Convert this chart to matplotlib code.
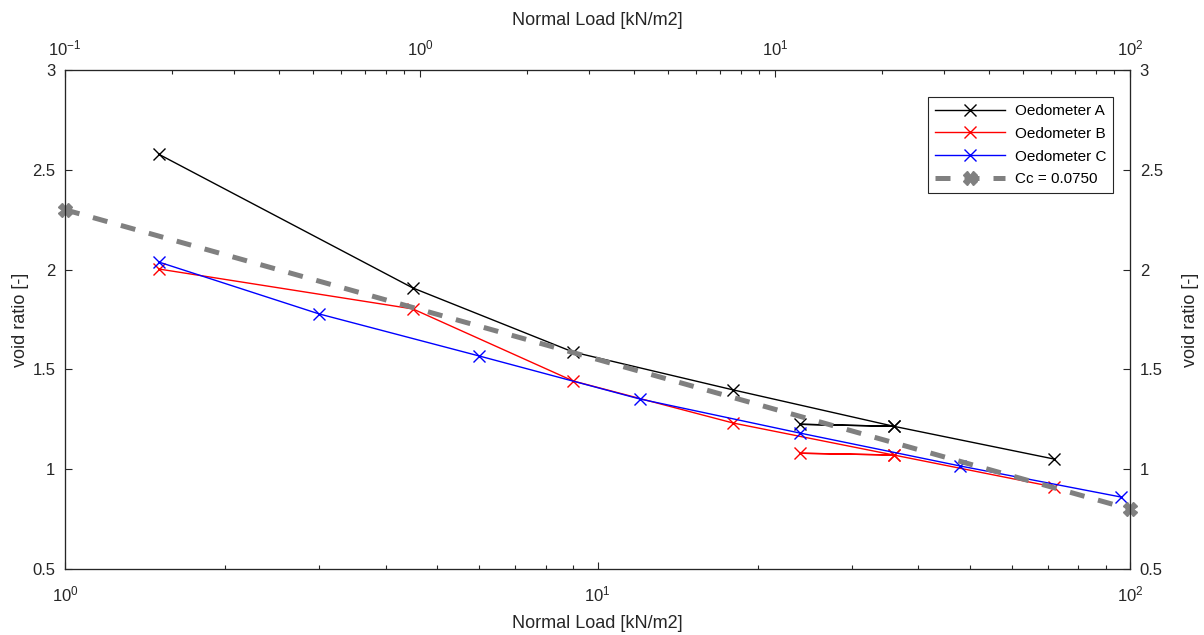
import numpy as np
import matplotlib
matplotlib.use('Agg')
import matplotlib.pyplot as plt

plt.rcParams['font.family'] = ['Liberation Sans', 'DejaVu Sans']
plt.rcParams['mathtext.fontset'] = 'custom'
plt.rcParams['mathtext.rm'] = 'Liberation Sans'
plt.rcParams['mathtext.it'] = 'Liberation Sans'
plt.rcParams['mathtext.default'] = 'regular'

# Oedometer data (load kN/m2, void ratio)
load_a = [1.5, 4.5, 9, 18, 36, 24, 36, 72]
void_a = [2.578, 1.908, 1.587, 1.397, 1.215, 1.225, 1.215, 1.051]
load_b = [1.5, 4.5, 9, 18, 36, 24, 36, 72]
void_b = [2.003, 1.803, 1.442, 1.231, 1.071, 1.080, 1.071, 0.911]
load_c = [1.5, 3, 6, 12, 24, 48, 96]
void_c = [2.038, 1.778, 1.567, 1.352, 1.181, 1.016, 0.861]
# compression index line
cc_load = [1, 100]
cc_void = [2.3, 0.8]
yticks = [0.5, 1, 1.5, 2, 2.5, 3]
ytick_labels = ['0.5', '1', '1.5', '2', '2.5', '3']

axcol = '#262626'

fig = plt.figure(figsize=(12.04, 6.35), dpi=100)
ax = fig.add_axes([65/1204, 1-569/635, (1130-65)/1204, (569-70)/635])

ax.plot(load_a, void_a, color='black', marker='x', markersize=9, lw=1.0, label='Oedometer A')
ax.plot(load_b, void_b, color='red', marker='x', markersize=9, lw=1.0, label='Oedometer B')
ax.plot(load_c, void_c, color='blue', marker='x', markersize=9, lw=1.0, label='Oedometer C')
ax.plot(cc_load, cc_void, color='#808080', marker='X', markersize=10, lw=3.6,
        linestyle=(0, (3, 2.8)), label='Cc = 0.0750', clip_on=False, zorder=5)

ax.set_xscale('log')
ax.set_xlim(1, 100)
ax.set_ylim(0.5, 3)
ax.set_yticks(yticks)
ax.set_yticklabels(ytick_labels)
ax.set_xlabel('Normal Load [kN/m2]', fontsize=13, color=axcol, labelpad=8)
ax.set_ylabel('void ratio [-]', fontsize=13, color=axcol, labelpad=2)

# right axis
axr = ax.twinx()
axr.set_ylim(0.5, 3)
axr.set_yticks(yticks)
axr.set_yticklabels(ytick_labels)
axr.set_ylabel('void ratio [-]', fontsize=13, color=axcol, labelpad=14)

# top axis
axt = ax.twiny()
axt.set_xscale('log')
axt.set_xlim(0.1, 100)
axt.set_xlabel('Normal Load [kN/m2]', fontsize=13, color=axcol, labelpad=10)

for a in (ax, axr, axt):
    a.tick_params(which='major', direction='in', length=5, width=0.8, colors=axcol,
                  labelsize=12, pad=7)
    a.tick_params(which='minor', direction='in', length=3, width=0.8, colors=axcol)
    for s in a.spines.values():
        s.set_color(axcol)
        s.set_linewidth(0.8)
ax.tick_params(axis='x', which='major', pad=11)
axt.tick_params(axis='x', which='major', pad=8)
ax.tick_params(axis='y', which='minor', left=False)
axr.tick_params(axis='y', which='minor', right=False)

leg = ax.legend(loc='upper right', bbox_to_anchor=(1113/1204, 1-97/635),
                bbox_transform=fig.transFigure, fontsize=11, fancybox=False,
                framealpha=1, edgecolor=axcol, borderpad=0.45, labelspacing=0.58,
                handlelength=4.6, handletextpad=0.6, borderaxespad=0)
leg.get_frame().set_linewidth(0.8)
leg.set_zorder(10)

fig.savefig('out.png', dpi=100)
